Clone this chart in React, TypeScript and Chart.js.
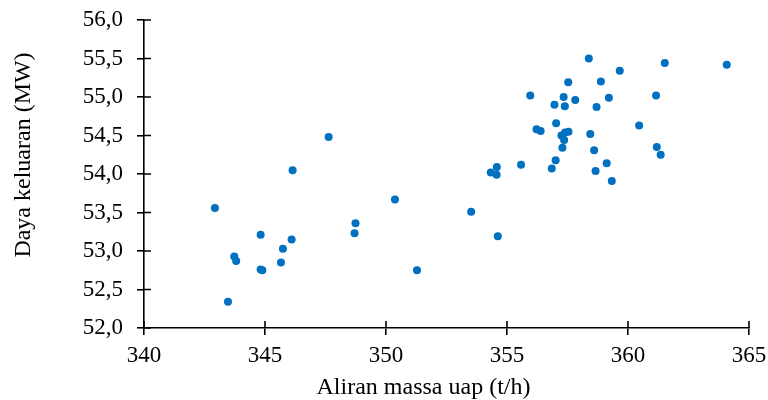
import React, { useEffect, useRef } from "react";
import { Chart, registerables } from "chart.js";

Chart.register(...registerables);

// Aliran massa uap (t/h)
const steamFlow: number[] = [
  346.14, 347.63, 350.37, 342.93, 348.74, 348.70, 344.82, 346.10, 345.74, 343.73,
  343.81, 345.66, 344.82, 344.89, 351.28, 343.47,
  358.38, 361.52, 364.08, 359.66, 357.53, 358.88, 355.96, 357.34, 357.82, 359.21,
  361.16, 356.96, 357.39, 358.70, 357.03, 360.46, 356.22, 356.39, 357.25, 357.40,
  357.54, 357.36, 358.44, 357.29, 358.60, 361.19, 361.35, 354.58, 354.33, 354.57,
  355.58, 357.01, 356.85, 359.12, 358.66, 359.33, 353.52, 354.62,
];
// Daya keluaran (MW)
const powerOutput: number[] = [
  54.05, 54.48, 53.67, 53.56, 53.36, 53.23, 53.21, 53.15, 53.03, 52.93,
  52.87, 52.85, 52.76, 52.75, 52.75, 52.34,
  55.50, 55.44, 55.42, 55.34, 55.19, 55.20, 55.02, 55.00, 54.96, 54.99,
  55.02, 54.90, 54.88, 54.87, 54.66, 54.63, 54.58, 54.56, 54.50, 54.54,
  54.55, 54.44, 54.52, 54.34, 54.31, 54.35, 54.25, 54.09, 54.02, 53.99,
  54.12, 54.18, 54.07, 54.14, 54.04, 53.91, 53.51, 53.19,
];
const xTicks: number[] = [340, 345, 350, 355, 360, 365];
const yTicks: number[] = [52.0, 52.5, 53.0, 53.5, 54.0, 54.5, 55.0, 55.5, 56.0];
const xTitle = "Aliran massa uap (t/h)";
const yTitle = "Daya keluaran (MW)";

const FONT = "'Liberation Serif', 'Times New Roman', serif";

const innerTicks = {
  id: "innerTicks",
  afterDatasetsDraw(chart: any) {
    const ctx = chart.ctx;
    const xs = chart.scales.x;
    const ys = chart.scales.y;
    const L = 7;
    ctx.save();
    ctx.strokeStyle = "#000";
    ctx.lineWidth = 1.6;
    ctx.beginPath();
    xTicks.forEach((v) => {
      const px = xs.getPixelForValue(v);
      ctx.moveTo(px, ys.bottom);
      ctx.lineTo(px, ys.bottom - L);
    });
    yTicks.forEach((v) => {
      const py = ys.getPixelForValue(v);
      ctx.moveTo(xs.left, py);
      ctx.lineTo(xs.left + L, py);
    });
    ctx.stroke();
    ctx.restore();
  },
};

// Axis titles placed like the source (Excel-style offsets from the plot centre)
const axisTitles = {
  id: "axisTitles",
  afterDraw(chart: any) {
    const ctx = chart.ctx;
    const a = chart.chartArea;
    ctx.save();
    ctx.fillStyle = "#000";
    ctx.font = `24px ${FONT}`;
    ctx.textAlign = "center";
    ctx.textBaseline = "middle";
    ctx.fillText(xTitle, (a.left + a.right) / 2 - 23, chart.height - 12);
    ctx.translate(24, (a.top + a.bottom) / 2 - 19);
    ctx.rotate(-Math.PI / 2);
    ctx.fillText(yTitle, 0, 0);
    ctx.restore();
  },
};

export default function App() {
  const ref = useRef<HTMLCanvasElement | null>(null);
  useEffect(() => {
    if (!ref.current) return;
    const data = steamFlow.map((x, i) => ({ x, y: powerOutput[i] }));
    const chart = new Chart(ref.current, {
      type: "scatter",
      data: {
        datasets: [
          {
            data,
            backgroundColor: "#0070C0",
            borderColor: "#0070C0",
            borderWidth: 0,
            pointRadius: 4,
          },
        ],
      },
      options: {
        responsive: false,
        animation: false,
        layout: { padding: { left: 0, right: 19, top: 20, bottom: 0 } },
        plugins: { legend: { display: false }, tooltip: { enabled: false } },
        scales: {
          x: {
            type: "linear",
            min: 340,
            max: 365,
            afterBuildTicks: (s: any) => {
              s.ticks = xTicks.map((v) => ({ value: v }));
            },
            afterFit: (s: any) => {
              s.height = 72;
              s.paddingLeft = 0;
              s.paddingRight = 0;
            },
            grid: { display: true, drawOnChartArea: false, tickLength: 7, color: "#000", lineWidth: 1.6 },
            border: { display: true, color: "#000", width: 1.6 },
            ticks: {
              color: "#000",
              font: { family: FONT, size: 23 },
              padding: 7,
              maxRotation: 0,
              callback: (v: any) => String(v),
            },
            title: { display: false },
          },
          y: {
            type: "linear",
            min: 52,
            max: 56,
            afterBuildTicks: (s: any) => {
              s.ticks = yTicks.map((v) => ({ value: v }));
            },
            afterFit: (s: any) => {
              s.width = 144;
              s.paddingTop = 0;
              s.paddingBottom = 0;
            },
            grid: { display: true, drawOnChartArea: false, tickLength: 7, color: "#000", lineWidth: 1.6 },
            border: { display: true, color: "#000", width: 1.6 },
            ticks: {
              color: "#000",
              font: { family: FONT, size: 23 },
              padding: 14,
              callback: (v: any) => Number(v).toFixed(1).replace(".", ","),
            },
            title: { display: false },
          },
        },
      },
      plugins: [innerTicks, axisTitles],
    });
    return () => chart.destroy();
  }, []);
  return (
    <div style={{ position: "fixed", left: 0, top: 0, width: 768, height: 400, background: "#fff" }}>
      <canvas ref={ref} width={768} height={400} style={{ width: 768, height: 400, display: "block" }} />
    </div>
  );
}
